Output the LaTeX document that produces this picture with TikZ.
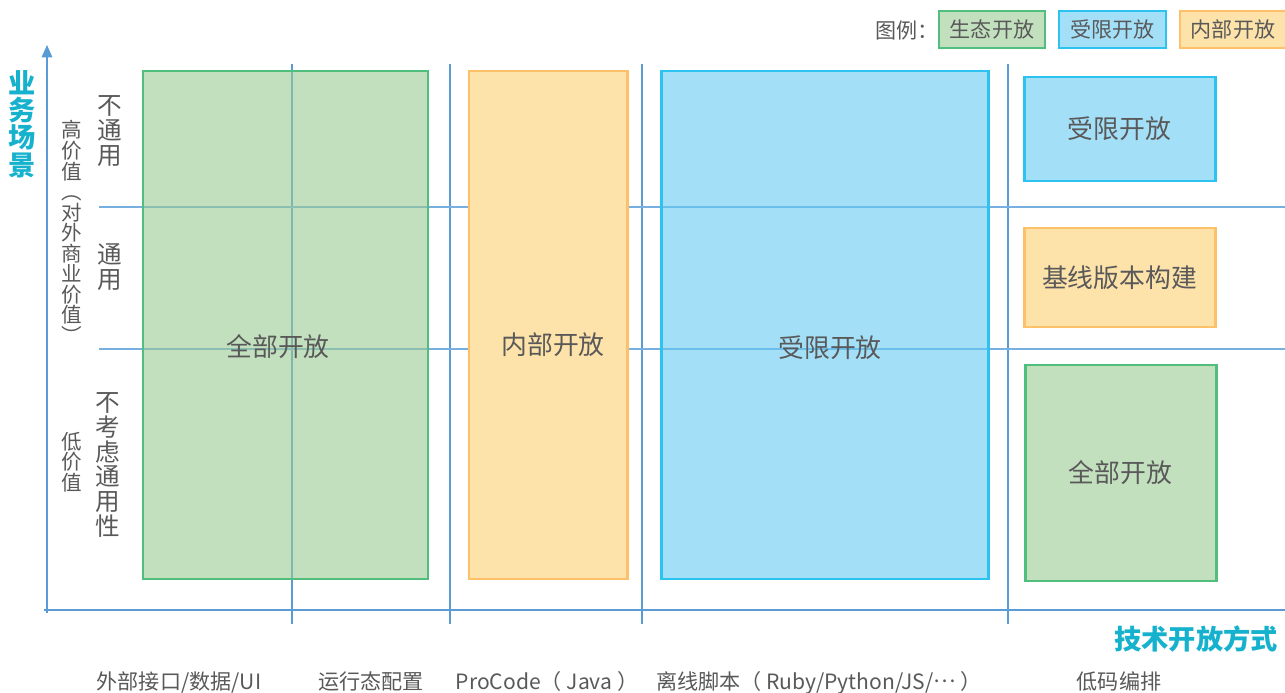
\documentclass[tikz,border=0pt]{standalone}
\usepackage{fontspec}
\usepackage{graphicx}
\setmainfont{Noto Sans CJK SC}
\usetikzlibrary{arrows.meta}
\definecolor{txtgray}{RGB}{89,89,89}
\definecolor{teal1}{RGB}{22,178,205}
\definecolor{axisblue}{RGB}{91,155,213}
\definecolor{gridblue}{RGB}{120,175,225}
\definecolor{gfill}{RGB}{153,203,147}
\definecolor{gfillL}{RGB}{194,224,190}
\definecolor{gdraw}{RGB}{80,190,125}
\definecolor{bfill}{RGB}{102,202,242}
\definecolor{bfillL}{RGB}{163,223,247}
\definecolor{bdraw}{RGB}{45,195,240}
\definecolor{ofill}{RGB}{253,226,170}
\definecolor{odraw}{RGB}{255,192,106}
\tikzset{
  gbox/.style={draw=gdraw, line width=1.7pt, fill=gfill, fill opacity=0.6, text opacity=1, text=txtgray},
  bbox/.style={draw=bdraw, line width=1.7pt, fill=bfill, fill opacity=0.6, text opacity=1, text=txtgray},
  obox/.style={draw=odraw, line width=1.7pt, fill=ofill, text=txtgray},
  sgbox/.style={draw=gdraw, line width=1.7pt, fill=gfillL, text=txtgray},
  sbbox/.style={draw=bdraw, line width=1.7pt, fill=bfillL, text=txtgray},
  bigtxt/.style={font=\fontsize{14.7}{16}\selectfont},
  legtxt/.style={font=\fontsize{12}{13}\selectfont, text=txtgray},
  botlbl/.style={font=\fontsize{12}{13}\selectfont, text=txtgray, anchor=base},
  vlbl/.style={font=\fontsize{14}{14.2}\selectfont, text=txtgray, align=center, inner sep=0pt},
  vlbls/.style={font=\fontsize{11.7}{11.7}\selectfont, text=txtgray, align=center, inner sep=0pt},
  axistitle/.style={font=\fontsize{15.5}{15.5}\selectfont\bfseries, text=teal1, align=center, inner sep=0pt},
  vgrid/.style={draw=axisblue, line width=0.85pt},
  hgrid/.style={draw=gridblue, line width=0.85pt},
}
\begin{document}
\begin{tikzpicture}[x=0.02cm, y=-0.02cm]
\useasboundingbox (0,0) rectangle (1285,693);
% grid lines
\coordinate (v1t) at (292,64); \coordinate (v1b) at (292,624);
\coordinate (v2t) at (450,64); \coordinate (v2b) at (450,624);
\coordinate (v3t) at (642,64); \coordinate (v3b) at (642,624);
\coordinate (v4t) at (1008,64); \coordinate (v4b) at (1008,624);
\coordinate (h1l) at (99,207); \coordinate (h1r) at (1285,207);
\coordinate (h2l) at (99,349); \coordinate (h2r) at (1285,349);
\draw[vgrid] (v2t) -- (v2b);
\draw[vgrid] (v3t) -- (v3b);
\draw[vgrid] (v4t) -- (v4b);
\draw[vgrid] (v1t) -- (v1b);
\draw[hgrid] (h1l) -- (h1r);
\draw[hgrid] (h2l) -- (h2r);
% axes
\coordinate (ytop) at (47,45);
\coordinate (xend) at (1285,610);
\coordinate (xstart) at (44,610);
\coordinate (ybot) at (47,613);
\draw[axisblue, line width=0.85pt, -{Triangle[length=7pt,width=6pt]}] (ybot) -- (ytop);
\draw[axisblue, line width=0.85pt] (xstart) -- (xend);
% big boxes
\node[gbox, minimum width=285*0.02cm, minimum height=508*0.02cm] (allopen) at (285.5,325) {};
\node[bigtxt, text=txtgray] (allopenT) at (278,347) {全部开放};
\node[obox, minimum width=158*0.02cm, minimum height=508*0.02cm] (inner) at (548,325) {};
\node[bigtxt, text=txtgray] (innerT) at (553,345) {内部开放};
\node[bbox, minimum width=327*0.02cm, minimum height=508*0.02cm] (limited) at (824.5,325) {};
\node[bigtxt, text=txtgray] (limitedT) at (830,348) {受限开放};
% right small boxes
\node[sbbox, bigtxt, minimum width=191*0.02cm, minimum height=104*0.02cm] (slimited) at (1119.5,129) {受限开放};
\node[obox, bigtxt, minimum width=191*0.02cm, minimum height=99*0.02cm] (baseline) at (1119.5,277.5) {基线版本构建};
\node[sgbox, bigtxt, minimum width=191*0.02cm, minimum height=216*0.02cm] (sall) at (1120.5,473) {全部开放};
% legend
\node[legtxt] (legT) at (907,31) {图例：};
\node[sgbox, legtxt, line width=1.6pt, minimum width=106*0.02cm, minimum height=37*0.02cm] (legG) at (992,29.5) {生态开放};
\node[sbbox, legtxt, line width=1.6pt, minimum width=107*0.02cm, minimum height=37*0.02cm] (legB) at (1112.5,29.5) {受限开放};
\node[obox, legtxt, line width=1.6pt, minimum width=106*0.02cm, minimum height=37*0.02cm] (legO) at (1233,29.5) {内部开放};
% axis titles
\node[axistitle] (ytitle) at (22,124) {业\\务\\场\\景};
\node[axistitle] (xtitle) at (1196,639) {技术开放方式};
% vertical labels
\node[vlbl] (nogen) at (110,131) {不\\通\\用};
\node[vlbl] (gen) at (110,267) {通\\用};
\node[vlbl] (noconsider) at (108,465) {不\\考\\虑\\通\\用\\性};
\node[vlbls] (highval) at (72,232) {高\\价\\值\\︵\\对\\外\\商\\业\\价\\值\\︶};
\node[vlbls] (lowval) at (72,462) {低\\价\\值};
% bottom labels
\node[botlbl] (b1) at (179,689) {外部接口/数据/UI};
\node[botlbl] (b2) at (371,689) {运行态配置};
\node[botlbl] (b3) at (547,689) {ProCode（ Java ）};
\node[botlbl] (b4) at (819,689) {离线脚本（ Ruby/Python/JS/\raisebox{0.3em}{…} ）};
\node[botlbl] (b5) at (1119,689) {低码编排};
\end{tikzpicture}
\end{document}
